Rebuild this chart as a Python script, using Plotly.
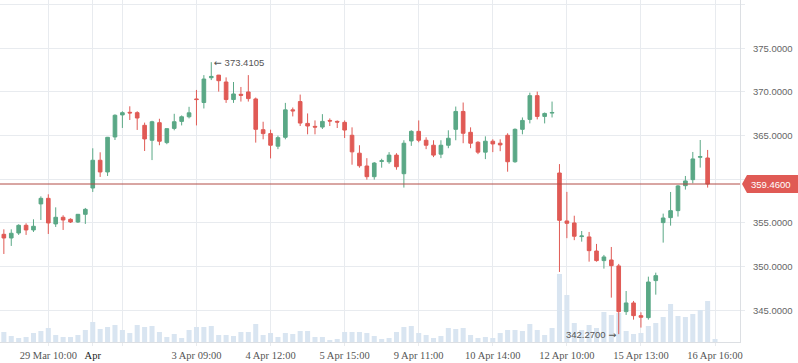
import plotly.graph_objects as go

# ---- data ----
candle_index = list(range(97))

open_ = [353.70, 353.28, 353.85, 354.73, 354.20, 357.18, 357.82, 354.89, 355.65, 355.42,
         355.11, 355.99, 359.00, 362.18, 360.84, 364.85, 367.37, 367.67, 367.63, 366.18,
         364.47, 366.48, 364.20, 365.83, 366.63, 367.16, 369.20, 368.79, 371.63, 371.93,
         371.14, 369.13, 369.73, 370.00, 369.20, 365.68, 365.23, 363.79, 364.81, 367.95,
         368.90, 366.40, 366.06, 365.98, 366.74, 366.63, 366.52, 365.04, 362.99, 361.52,
         360.30, 362.05, 362.01, 362.77, 360.64, 364.39, 365.49, 364.47, 363.90, 362.88,
         363.90, 365.72, 367.77, 365.38, 364.24, 363.11, 364.36, 364.13, 365.04, 362.01,
         365.72, 366.86, 369.58, 367.20, 367.58, 360.72, 355.23, 355.00, 353.44, 353.40,
         351.79, 350.69, 350.76, 350.08, 344.85, 345.84, 344.39, 344.16, 348.40, 355.04,
         355.61, 356.41, 359.27, 359.96, 362.52, 362.44, None]
high = [354.27, 354.27, 354.85, 354.96, 355.42, 358.05, 358.28, 356.79, 355.88, 355.53,
        356.03, 356.72, 363.55, 363.09, 364.85, 367.44, 367.79, 368.36, 367.79, 366.49,
        366.70, 366.93, 365.80, 367.50, 367.31, 368.30, 370.23, 371.93, 373.4105, 371.95,
        371.67, 371.14, 370.57, 371.93, 369.36, 366.59, 365.68, 365.00, 368.75, 368.22,
        369.70, 367.54, 366.74, 367.46, 366.97, 366.74, 366.74, 365.95, 363.90, 362.42,
        361.97, 362.35, 363.11, 362.99, 364.47, 365.61, 366.74, 364.81, 364.47, 364.47,
        365.61, 368.33, 368.79, 365.95, 364.36, 364.92, 364.58, 364.58, 365.27, 365.83,
        367.08, 369.92, 370.04, 367.65, 368.90, 361.74, 358.56, 355.83, 354.08, 353.97,
        352.60, 351.34, 352.25, 350.31, 347.21, 346.07, 344.77, 348.85, 349.31, 356.07,
        358.55, 359.35, 360.38, 363.13, 364.50, 363.36, None]
low = [351.45, 352.37, 353.63, 353.63, 353.97, 355.34, 353.74, 354.54, 354.20, 355.00,
       355.00, 354.89, 358.55, 360.27, 360.38, 364.50, 365.88, 366.79, 365.65, 363.24,
       362.20, 363.90, 364.02, 365.61, 366.17, 366.97, 366.17, 368.11, 371.36, 370.04,
       368.75, 368.75, 368.90, 368.90, 364.20, 364.58, 362.39, 363.45, 364.58, 367.20,
       366.10, 365.15, 365.15, 365.76, 366.10, 365.87, 364.73, 361.67, 361.33, 359.96,
       359.96, 361.33, 361.78, 361.10, 359.05, 363.83, 364.24, 363.45, 362.54, 362.42,
       363.56, 364.47, 364.13, 363.56, 362.88, 362.31, 363.11, 363.22, 360.87, 361.89,
       365.15, 366.40, 366.86, 366.40, 367.08, 349.39, 353.26, 353.03, 352.86, 350.57,
       350.57, 349.77, 346.45, 342.27, 344.47, 343.93, 343.02, 343.93, 346.79, 352.75,
       354.69, 355.73, 358.82, 359.54, 361.34, 359.05, None]
close = [353.28, 353.82, 354.73, 354.20, 354.62, 357.82, 355.00, 355.65, 355.34, 355.11,
         355.99, 356.56, 362.18, 360.84, 364.81, 367.33, 367.63, 367.60, 367.02, 364.62,
         366.59, 364.36, 365.80, 366.59, 367.16, 367.61, 369.13, 371.48, 371.78, 371.29,
         369.13, 369.77, 369.62, 369.24, 365.72, 365.23, 363.90, 364.77, 367.95, 367.84,
         366.44, 366.10, 365.98, 366.63, 366.67, 366.55, 365.64, 363.14, 361.55, 360.30,
         361.86, 362.12, 362.77, 361.44, 364.13, 365.49, 364.47, 363.90, 362.77, 363.90,
         364.70, 367.77, 365.27, 364.13, 363.11, 364.36, 364.05, 363.94, 362.01, 365.72,
         366.74, 369.58, 367.20, 367.54, 367.65, 355.30, 354.96, 353.48, 353.51, 351.83,
         350.69, 351.11, 350.11, 344.85, 345.84, 344.39, 344.20, 348.24, 348.97, 355.57,
         356.41, 359.24, 359.81, 362.33, 362.60, 359.46, None]
volume = [10, 6, 4, 5, 9, 11, 14, 7, 5, 5, 7, 12, 20, 13, 15, 17, 12, 9, 17, 15,
          16, 10, 5, 8, 4, 12, 15, 15, 16, 7, 7, 6, 10, 10, 18, 7, 9, 5, 9, 8,
          11, 11, 5, 5, 2, 3, 10, 10, 10, 9, 6, 3, 4, 10, 15, 16, 9, 7, 4, 6,
          14, 13, 14, 7, 4, 5, 4, 9, 12, 12, 11, 18, 12, 7, 14, 68, 47, 19, 12, 17,
          14, 30, 27, 29, 11, 8, 9, 16, 19, 25, 38, 26, 25, 28, 32, 41, 3]
volume = [v * 1000 for v in volume]

tick_index = [6, 12, 16, 26, 36, 46, 56, 66, 76, 86, 96]
tick_labels = ["29 Mar 10:00", "<span style='color:#222'>Apr</span>", "", "3 Apr 09:00",
               "4 Apr 12:00", "5 Apr 15:00", "9 Apr 11:00", "10 Apr 14:00",
               "12 Apr 10:00", "15 Apr 13:00", "16 Apr 16:00"]
price_ticks = [345, 350, 355, 360, 365, 370, 375, 380]
price_tick_labels = ["345.0000", "350.0000", "355.0000", "", "365.0000", "370.0000",
                     "375.0000", ""]
last_price = 359.46
max_label = 373.4105
min_label = 342.27

GREEN = "#5aa886"
RED = "#e05a55"
GRID = "#e8ebef"
ARROW = "<span style='font-family:DejaVu Sans'>{}</span>"

fig = go.Figure()
fig.add_trace(go.Bar(x=candle_index, y=volume, yaxis="y", width=0.68,
                     marker=dict(color="#d9e5f1", line=dict(width=0)),
                     hoverinfo="skip", showlegend=False))
fig.add_trace(go.Candlestick(x=candle_index, open=open_, high=high, low=low, close=close,
                             yaxis="y2", whiskerwidth=0,
                             increasing=dict(line=dict(color=GREEN, width=1), fillcolor=GREEN),
                             decreasing=dict(line=dict(color=RED, width=1), fillcolor=RED),
                             showlegend=False))

fig.update_layout(
    width=798, height=363,
    margin=dict(l=0, r=58, t=0, b=21),
    paper_bgcolor="white", plot_bgcolor="white",
    showlegend=False,
    xaxis=dict(range=[-0.52, 99.37], rangeslider=dict(visible=False),
               tickmode="array", tickvals=tick_index, ticktext=tick_labels,
               showgrid=True, gridcolor=GRID, gridwidth=1,
               showline=True, linecolor="#dcdfe3", linewidth=1,
               ticks="outside", ticklen=3, tickcolor=GRID,
               tickfont=dict(family="Liberation Serif", size=10.5, color="#555"),
               zeroline=False),
    yaxis=dict(range=[0, 342000], visible=False, showgrid=False, fixedrange=True),
    yaxis2=dict(overlaying="y", side="right", anchor="x",
                range=[341.37, 380.53],
                tickmode="array", tickvals=price_ticks, ticktext=price_tick_labels,
                showgrid=True, gridcolor=GRID, gridwidth=1,
                showline=True, linecolor="#dcdfe3", linewidth=1,
                ticks="outside", ticklen=4, tickcolor=GRID,
                ticklabelstandoff=6,
                tickfont=dict(family="Liberation Sans", size=9.5, color="#666"),
                zeroline=False),
    shapes=[
        dict(type="line", xref="paper", x0=0, x1=1, yref="y2", y0=last_price, y1=last_price,
             line=dict(color="#b24c47", width=1), layer="above"),
        dict(type="path", xref="paper", xanchor=1, xsizemode="pixel",
             yref="y2", yanchor=last_price, ysizemode="pixel",
             path="M 2 0 L 7 9 L 58 9 L 58 -9 L 7 -9 Z",
             fillcolor="#e05a55", line=dict(width=0), layer="above"),
    ],
    annotations=[
        dict(x=1, xref="paper", y=last_price, yref="y2", xanchor="left", yanchor="middle",
             xshift=9, text="359.4600", showarrow=False,
             font=dict(family="Liberation Sans", size=9.5, color="white")),
        dict(x=28, xref="x", y=max_label, yref="y2", xanchor="left", yanchor="middle",
             xshift=1, text=ARROW.format("\u2190") + f" {max_label:.4f}", showarrow=False,
             font=dict(family="Liberation Sans", size=9.5, color="#555")),
        dict(x=83, xref="x", y=min_label, yref="y2", xanchor="right", yanchor="middle",
             xshift=-1, text=f"{min_label:.4f} " + ARROW.format("\u2192"), showarrow=False,
             font=dict(family="Liberation Sans", size=9.5, color="#555")),
    ],
)

fig.write_html("out.html", config={"displayModeBar": False},
               post_script="document.body.style.margin='0';document.body.style.overflow='hidden';")
